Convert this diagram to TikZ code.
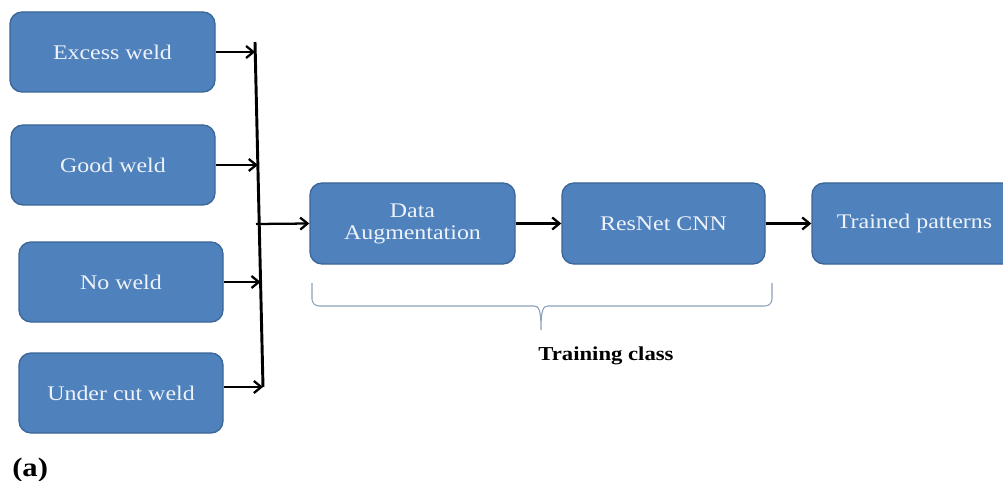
\documentclass[tikz,border=0pt]{standalone}
\usepackage{fontspec}
\setmainfont{Liberation Serif}[FakeStretch=1.15]
\usetikzlibrary{arrows.meta}
\definecolor{boxfill}{HTML}{4F81BD}
\definecolor{boxedge}{HTML}{3B6698}
\definecolor{boxtext}{HTML}{EEF3FA}
\definecolor{bracecol}{HTML}{8AA0BC}
\begin{document}
\begin{tikzpicture}[x=0.75pt,y=-0.75pt,
  blk/.style={draw=boxedge, line width=1pt, fill=boxfill, rounded corners=9pt,
    text=boxtext, font=\fontsize{15.6}{16.5}\selectfont, align=center,
    minimum height=60pt, inner sep=0pt},
  conn/.style={line width=1.7pt, -{Straight Barb[length=5.5pt,width=9pt]}},
  bus/.style={line width=2.2pt},
  bracestyle/.style={draw=bracecol, line width=0.8pt}]
\useasboundingbox (0,0) rectangle (1003,481);
\clip (0,0) rectangle (1003,481);

\node[blk, minimum width=153.75pt] (ew) at (112.5,52) {Excess weld};
\node[blk, minimum width=153pt] (gw) at (113,165) {Good weld};
\node[blk, minimum width=153pt] (nw) at (121,282) {No weld};
\node[blk, minimum width=153pt] (uw) at (121,393) {Under cut weld};
\node[blk, minimum width=153.75pt, minimum height=60.75pt] (da) at (412.5,223.5) {Data\\Augmentation};
\node[blk, minimum width=152.25pt, minimum height=60.75pt] (rn) at (663.5,223.5) {ResNet CNN};
\node[blk, minimum width=153.75pt, minimum height=60.75pt] (tp) at (914.5,223.5) {Trained patterns};

\coordinate (bt) at (255,42);
\coordinate (bb) at (263,387);
\coordinate (b1) at (255.2,52);
\coordinate (b2) at (257.9,165);
\coordinate (b3) at (260.6,282);
\coordinate (bm) at (256,224);
\draw[bus] (bt) -- (bb);

\draw[conn] (ew.east) -- (b1);
\draw[conn] (gw.east) -- (b2);
\draw[conn] (nw.east) -- (b3);
\draw[conn] (uw.east |- bb) -- (bb);
\draw[conn] (bm) -- (da.west);
\draw[conn] (da.east) -- (rn.west);
\draw[conn] (rn.east) -- (tp.west);

\draw[bracestyle] (312,283) -- (312,299) to[out=-90,in=180] (319,306) -- (534,306)
  .. controls (539,306) and (541,310) .. (541,330)
  .. controls (541,310) and (543,306) .. (548,306) -- (765,306)
  to[out=0,in=-90] (772,299) -- (772,283);

\node[font=\bfseries\fontsize{14.8}{18}\selectfont, anchor=base, inner sep=0pt] (tc) at (606,360) {Training class};
\node[font=\bfseries\fontsize{20}{24}\selectfont, anchor=base west, inner sep=0pt] (lbl) at (12,476) {(a)};
\end{tikzpicture}
\end{document}
